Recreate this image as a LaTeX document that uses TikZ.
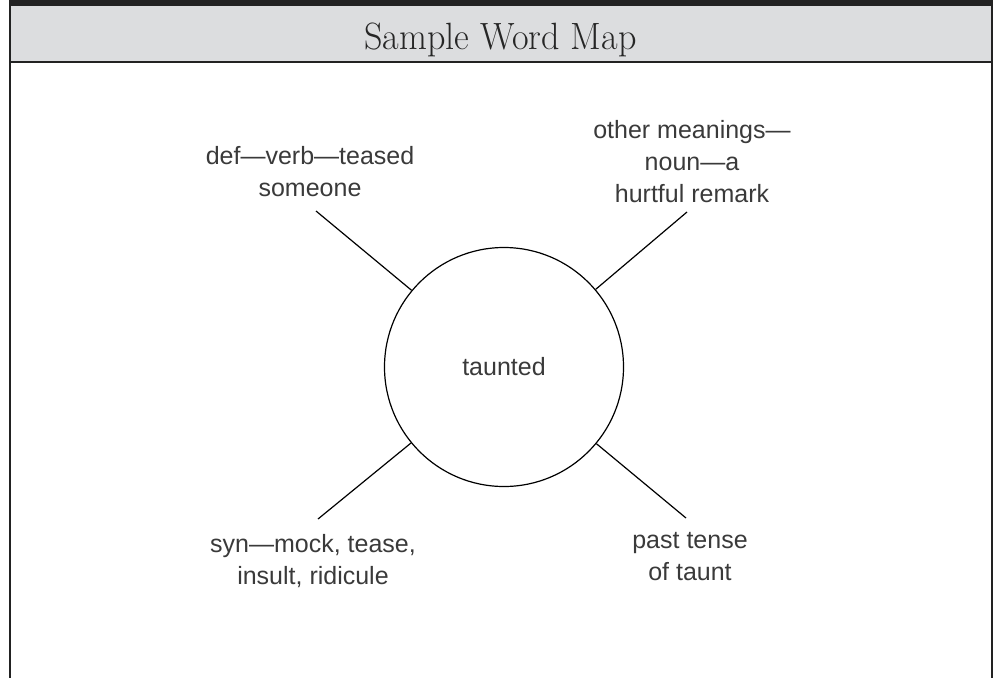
\documentclass[tikz,border=0pt]{standalone}
\usepackage{fontspec}
\newfontfamily\hand{Liberation Sans}
\definecolor{hdr}{HTML}{DCDDDF}
\definecolor{ink}{HTML}{3A3A3A}
\definecolor{rule}{HTML}{222222}
\tikzset{
  frame/.style={draw=rule, line width=1.6pt},
  hub/.style={circle, draw=black, line width=1.2pt, minimum size=239pt, inner sep=0pt, text=ink,
    font=\hand\fontsize{25}{32}\selectfont},
  leaf/.style={align=center, text=ink, inner sep=0pt, font=\hand\fontsize{25}{32}\selectfont},
  spoke/.style={draw=black, line width=1.2pt},
  titletext/.style={font=\fontsize{38}{44}\selectfont, text=black!85, inner sep=0pt, anchor=base}
}
\begin{document}
\begin{tikzpicture}[x=1pt,y=-1pt]
\useasboundingbox (0,0) rectangle (996,678);
% header
\fill[hdr] (10,6) rectangle (992,62);
\fill[rule] (9,0) rectangle (993,6);
\draw[frame] (10,6) -- (10,678);
\draw[frame] (992,6) -- (992,678);
\draw[rule, line width=2pt] (10,62) -- (992,62);
\node[titletext] (title) at (500.5,49) {\scalebox{0.95}[1]{Sample Word Map}};
% hub
\node[hub] (c) at (504,367) {taunted};
% leaves
\node[leaf] (ul) at (310,172) {def—verb—teased\\someone};
\node[leaf] (ur) at (692,162) {other meanings—\\noun—a\\hurtful remark};
\node[leaf] (ll) at (313,561) {syn—mock, tease,\\insult, ridicule};
\node[leaf] (lr) at (690,557) {past tense\\of taunt};
% spoke ends
\coordinate (eul) at (316,211);
\coordinate (eur) at (687,212);
\coordinate (ell) at (318,519);
\coordinate (elr) at (686,518);
\draw[spoke] (c) -- (eul);
\draw[spoke] (c) -- (eur);
\draw[spoke] (c) -- (ell);
\draw[spoke] (c) -- (elr);
\end{tikzpicture}
\end{document}
